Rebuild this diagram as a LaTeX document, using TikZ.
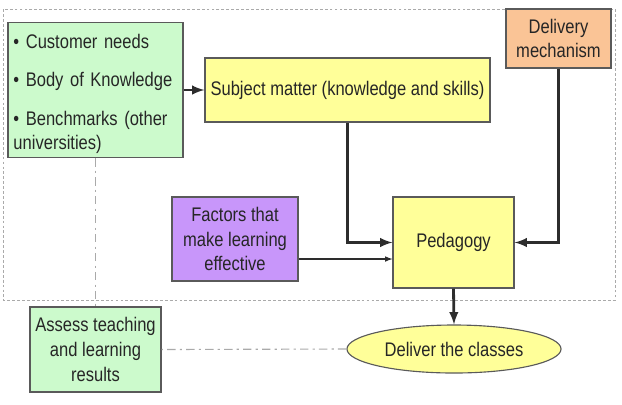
\documentclass[tikz,border=0pt]{standalone}
\usepackage{fontspec}
\setmainfont{Liberation Sans}[FakeStretch=0.84]
\usepackage{xcolor}
\usetikzlibrary{shapes.geometric, arrows}
\usetikzlibrary{calc,positioning}

\definecolor{boxgreen}{RGB}{204,250,204}
\definecolor{boxyellow}{RGB}{255,255,153}
\definecolor{boxorange}{RGB}{250,196,150}
\definecolor{boxpurple}{RGB}{200,150,250}
\definecolor{edgegray}{RGB}{90,90,90}
\definecolor{linegray}{RGB}{45,45,45}
\definecolor{frameline}{RGB}{170,170,170}

\tikzset{
  block/.style={draw=edgegray, line width=0.8pt, rectangle, inner sep=2pt,
    align=center, text=black!85,
    font=\fontsize{14}{17.7}\selectfont},
  flow/.style={-latex, draw=linegray, line width=2pt},
  thinflow/.style={-latex, draw=linegray, line width=0.8pt},
  loop/.style={draw=frameline, line width=0.8pt, dash pattern=on 6pt off 3pt on 1.5pt off 3pt},
}

\begin{document}
\begin{tikzpicture}[x=0.025cm, y=-0.025cm]

    \useasboundingbox (0,0) rectangle (622,404);

    % Frame
    \draw[frameline, line width=0.7pt, dash pattern=on 2pt off 1.5pt] (3,9) rectangle (615,300);

    % Boxes
    \node[block, fill=boxgreen, minimum width=4.375cm, minimum height=3.375cm,
          text width=4.1cm, align=left] (needs) at (95.5,90)
      {\rule{0pt}{16pt}\textbullet\ Customer needs\\[9.5pt]
       \textbullet\ Body of Knowledge\\[9.5pt]
       \textbullet\ Benchmarks (other\\universities)};
    \node[block, fill=boxyellow, minimum width=7.125cm, minimum height=1.6cm] (subject) at (347.5,90)
      {Subject matter (knowledge and skills)};
    \node[block, fill=boxorange, minimum width=2.625cm, minimum height=1.475cm] (delivery) at (558.5,38.5)
      {Delivery\\mechanism};
    \node[block, fill=boxpurple, minimum width=3.15cm, minimum height=2.1cm] (factors) at (235,239)
      {Factors that\\make learning\\effective};
    \node[block, fill=boxyellow, minimum width=3.025cm, minimum height=2.275cm] (pedagogy) at (453.5,242.5)
      {Pedagogy};
    \node[block, fill=boxgreen, minimum width=3.275cm, minimum height=2.125cm] (assess) at (95.5,349.5)
      {Assess teaching\\and learning\\results};
    \node[block, ellipse, fill=boxyellow, minimum width=5.35cm, minimum height=1.2cm, inner sep=0pt] (deliver) at (454,349)
      {Deliver the classes};

    % Arrows
    \draw[flow] (needs.east) -- (subject.west);
    \draw[flow] (subject.south) |- (pedagogy.west);
    \draw[flow] (delivery.south) |- (pedagogy.east);
    \draw[thinflow] ([yshift=-0.5cm]factors.east) -- ([yshift=-0.5cm]factors.east -| pedagogy.west);
    \draw[flow] (pedagogy.south) -- (deliver.north);

    % Feedback
    \draw[loop] (deliver.west) -- (assess.east);
    \draw[loop] (needs.south) -- (assess.north);
\end{tikzpicture}
\end{document}
